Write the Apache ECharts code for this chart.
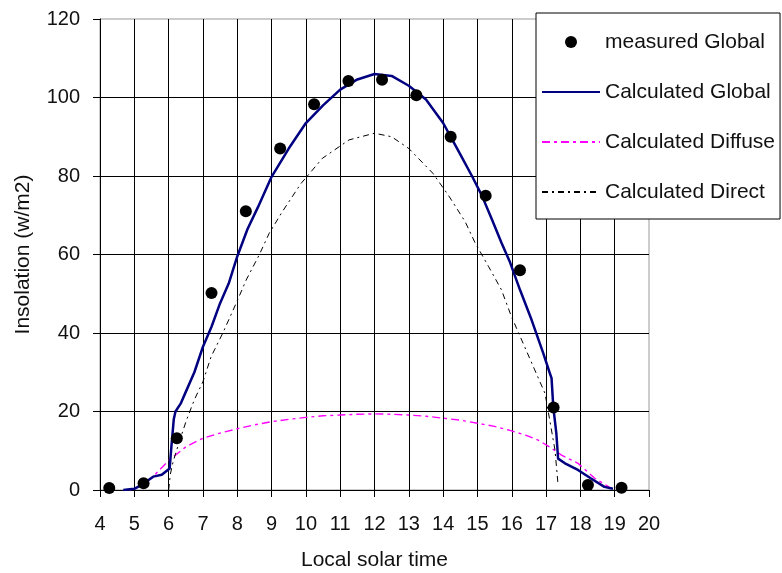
<!DOCTYPE html>
<html>
<head>
<meta charset="utf-8">
<script src="https://cdn.jsdelivr.net/npm/echarts@6/dist/echarts.min.js"></script>
<style>
html,body{margin:0;padding:0;background:#fff;}
#c{width:782px;height:573px;}
</style>
</head>
<body>
<div id="c"></div>
<script>
// Measured global insolation [local solar time, w/m2]
var measuredGlobal = [
  [4.27,0.5],[5.27,1.7],[6.24,13.2],[7.25,50.2],[8.25,71],[9.25,87],
  [10.24,98.3],[11.24,104.2],[12.22,104.5],[13.22,100.6],[14.22,90],
  [15.24,75],[16.24,56],[17.22,21],[18.22,1.3],[19.2,0.6]
];
// Calculated global
var calcGlobal = [
  [4.68,0],[5.0,0.3],[5.25,1.5],[5.55,3.4],[5.8,3.9],[6.03,5.5],[6.08,11],
  [6.15,18],[6.2,20],[6.35,22],[6.5,25],[6.75,30],[7.0,36.5],[7.25,41.6],
  [7.5,47.6],[7.75,52.6],[8.0,59.5],[8.3,66.5],[8.6,72],[9.0,79.8],[9.5,87],
  [10.0,93.5],[10.5,98],[11.0,102],[11.5,104.6],[12.0,106],[12.5,105.5],
  [13.0,103],[13.5,99.5],[14.0,93.5],[14.25,89.5],[14.5,85.5],[14.84,80],
  [15.13,75],[15.42,69],[15.7,63],[15.95,58],[16.24,51],[16.58,43.3],
  [16.92,34.8],[17.1,30],[17.16,28.5],[17.21,21.2],[17.3,14.4],[17.35,8],
  [17.55,6.8],[17.93,5.1],[18.3,3],[18.7,0.8],[18.95,0.3]
];
// Calculated diffuse
var calcDiffuse = [
  [4.85,0],[5.0,0.3],[5.5,3],[6.0,7.5],[6.5,11],[7.0,13.2],[7.5,14.5],
  [8.0,15.6],[8.5,16.6],[9.0,17.4],[9.5,18],[10.0,18.5],[10.5,18.9],
  [11.0,19.1],[11.5,19.3],[12.0,19.4],[12.5,19.3],[13.0,19.1],[13.5,18.8],
  [14.0,18.3],[14.5,17.8],[15.0,17],[15.5,16.2],[15.9,15.3],[16.4,14],
  [16.77,12.7],[17.1,11],[17.45,8.9],[17.93,6.8],[18.42,3],[18.9,0.4],[19.1,0]
];
// Calculated direct
var calcDirect = [
  [6.0,0],[6.05,4],[6.13,7.2],[6.3,12],[6.52,17.8],[6.75,23],[7.0,27.6],
  [7.24,34],[7.58,40],[8.01,48.4],[8.26,53.5],[8.64,59.9],[8.93,65.4],
  [9.32,71],[9.85,78],[10.48,84.5],[11.26,89.2],[12.0,90.9],[12.5,90],
  [13.0,87],[13.7,80.7],[14.16,75],[14.64,68.4],[14.93,63],[15.32,57],
  [15.7,51],[15.99,44.2],[16.29,38.2],[16.67,30.6],[16.97,24.6],
  [17.26,10.2],[17.35,1.3]
];
var seriesNames = ['measured Global','Calculated Global','Calculated Diffuse','Calculated Direct'];
var xRange = [4, 20, 1];
var yRange = [0, 120, 20];

var FONT = 'Liberation Sans, Arial, sans-serif';
var hiddenSym = {opacity: 0};
var chart = echarts.init(document.getElementById('c'), null, {renderer:'canvas'});
chart.setOption({
  animation: false,
  backgroundColor: '#fff',
  grid: {left:100, top:19, width:549, height:471, containLabel:false, outerBoundsMode:'none',
         show:true, borderColor:'#999', borderWidth:1, backgroundColor:'transparent'},
  legend: {
    orient: 'vertical', left: 536, top: 13,
    backgroundColor: '#fff', borderColor: '#000', borderWidth: 1,
    padding: [17, 5, 15, 5],
    itemWidth: 58, itemHeight: 12, itemGap: 26,
    textStyle: {fontFamily: FONT, fontSize: 21, color: '#111', lineHeight: 24},
    data: [
      {name: seriesNames[0]},
      {name: seriesNames[1], itemStyle: hiddenSym},
      {name: seriesNames[2], itemStyle: hiddenSym},
      {name: seriesNames[3], itemStyle: hiddenSym}
    ],
    z: 10
  },
  xAxis: {
    type: 'value', min: xRange[0], max: xRange[1], interval: xRange[2],
    name: 'Local solar time', nameLocation: 'middle', nameGap: 60,
    nameTextStyle: {fontFamily: FONT, fontSize: 21, color: '#111'},
    axisLine: {show:true, onZero:false, lineStyle:{color:'#000', width:1}},
    axisTick: {show:true, length:7, lineStyle:{color:'#000'}},
    axisLabel: {fontFamily: FONT, fontSize: 20, color: '#111', margin: 24},
    splitLine: {show:true, showMinLine:false, showMaxLine:false, lineStyle:{color:'#000', width:1}}
  },
  yAxis: {
    type: 'value', min: yRange[0], max: yRange[1], interval: yRange[2],
    name: 'Insolation (w/m2)', nameLocation: 'middle', nameGap: 66,
    nameTextStyle: {fontFamily: FONT, fontSize: 21, color: '#111'},
    axisLine: {show:true, lineStyle:{color:'#000', width:1}},
    axisTick: {show:true, length:7, lineStyle:{color:'#000'}},
    axisLabel: {fontFamily: FONT, fontSize: 20, color: '#111', margin: 20},
    splitLine: {show:true, showMinLine:false, showMaxLine:false, lineStyle:{color:'#000', width:1}}
  },
  series: [
    {name: seriesNames[0], type:'scatter', data: measuredGlobal, symbol:'circle', symbolSize: 12,
     itemStyle:{color:'#000', opacity:1}, z: 5},
    {name: seriesNames[1], type:'line', data: calcGlobal, showSymbol:false, symbol:'none',
     lineStyle:{color:'#000080', width:2.5}, itemStyle:{color:'#000080'}, z: 4},
    {name: seriesNames[2], type:'line', data: calcDiffuse, showSymbol:false, symbol:'none',
     lineStyle:{color:'#ff00ff', width:1.4, type:[8,4,3,4]}, itemStyle:{color:'#ff00ff'}, z: 3},
    {name: seriesNames[3], type:'line', data: calcDirect, showSymbol:false, symbol:'none',
     lineStyle:{color:'#000', width:1, type:[6,4,2,4]}, itemStyle:{color:'#000'}, z: 3}
  ]
});
</script>
</body>
</html>
